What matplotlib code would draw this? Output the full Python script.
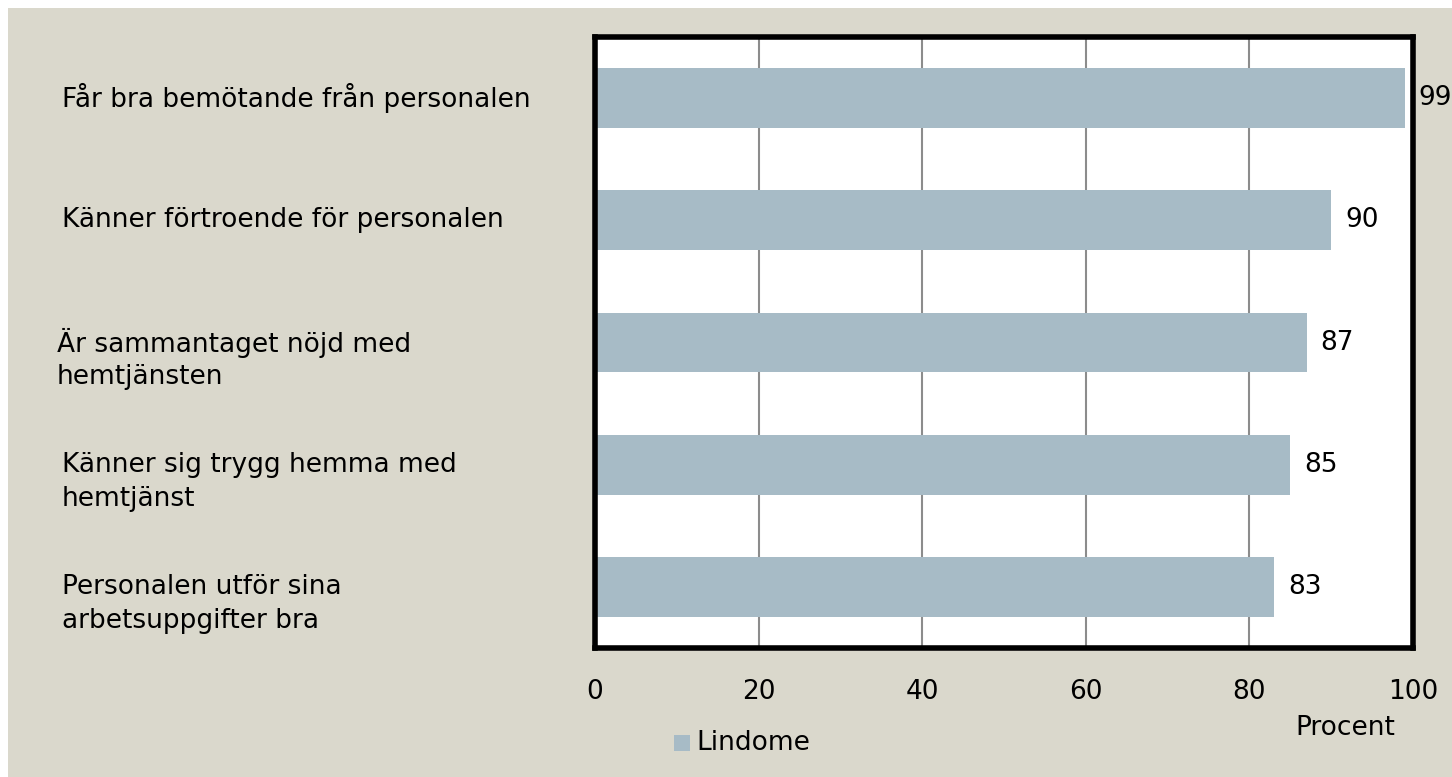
import matplotlib.pyplot as plt
from matplotlib.patches import Rectangle

categories = [
    "Får bra bemötande från personalen",
    "Känner förtroende för personalen",
    "Är sammantaget nöjd med\nhemtjänsten",
    "Känner sig trygg hemma med\nhemtjänst",
    "Personalen utför sina\narbetsuppgifter bra",
]
values = [99, 90, 87, 85, 83]
xticks = [0, 20, 40, 60, 80, 100]
series_name = "Lindome"

BG = "#DAD8CC"
BAR = "#A7BBC6"
FS = 19

plt.rcParams["font.family"] = ["DejaVu Sans"]

fig = plt.figure(figsize=(14.52, 7.77), dpi=100)
fig.patch.set_facecolor("white")
# beige panel with thin white margin top/left
fig.patches.append(Rectangle((8 / 1452, 0), 1, 1 - 8 / 777, transform=fig.transFigure,
                             facecolor=BG, edgecolor="none", zorder=-10))

W, H = 1452, 777
ax = fig.add_axes([595 / W, 1 - 648 / H, (1413 - 595) / W, (648 - 37) / H])
ax.set_facecolor("white")

y = list(range(len(categories)))
ax.barh(y, values, height=0.49, color=BAR, zorder=2)
ax.set_xlim(0, 100)
ax.set_ylim(len(categories) - 0.5, -0.5)
ax.set_yticks([])
ax.set_xticks(xticks)
ax.set_xticklabels([str(t) for t in xticks], fontsize=FS)
ax.tick_params(axis="x", length=0, pad=22)
ax.xaxis.grid(True, color="#8C8C8C", linewidth=1.5, zorder=1)
ax.set_axisbelow(True)
for s in ax.spines.values():
    s.set_linewidth(4)
    s.set_color("black")

# value labels
for yi, v in zip(y, values):
    ax.annotate(str(v), (v, yi), xytext=(10, 0), textcoords="offset points",
                va="center", ha="left", fontsize=FS, clip_on=False)

# category labels, first line aligned with bar centre
for yi, lab in zip(y, categories):
    x0 = 57 / W if lab.startswith("Är") else 62 / W
    for i, line in enumerate(lab.split("\n")):
        ax.annotate(line, (x0, yi), xycoords=(fig.transFigure, ax.transData),
                    xytext=(0, -i * 24.5), textcoords="offset points",
                    va="center", ha="left", fontsize=FS, annotation_clip=False)

fig.text(1345 / W, 1 - 728 / H, "Procent", ha="center", va="center", fontsize=FS)

# legend
fig.patches.append(Rectangle((674 / W, 1 - 751 / H), 16 / W, 16 / H, transform=fig.transFigure,
                             facecolor=BAR, edgecolor="none"))
fig.text(696 / W, 1 - 743 / H, series_name, ha="left", va="center", fontsize=FS)

fig.savefig("out.png", dpi=100, facecolor=fig.get_facecolor())
